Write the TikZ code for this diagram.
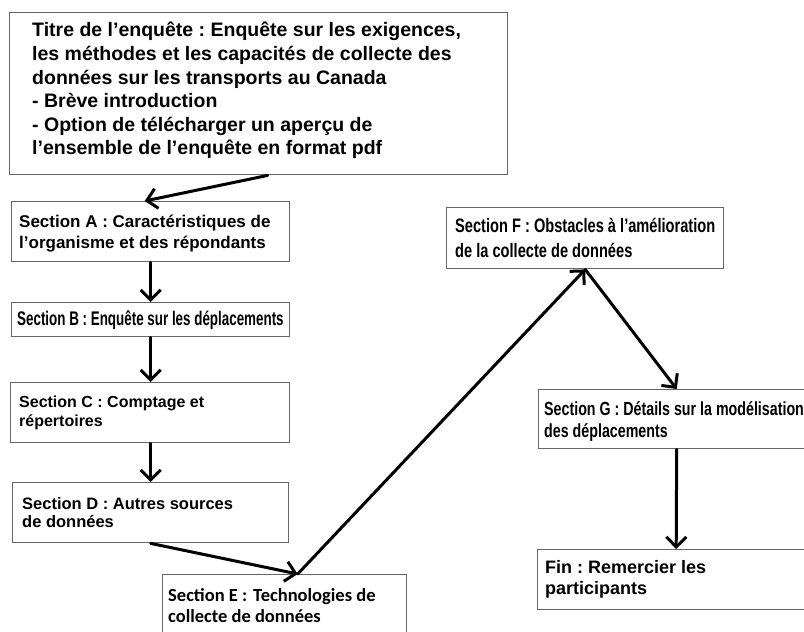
\documentclass[tikz,border=0pt]{standalone}
\usepackage{fontspec}
\setmainfont{Liberation Sans}
\newfontfamily\narrowfont[FakeStretch=0.75]{Liberation Sans}
\newfontfamily\narrowerfont[FakeStretch=0.68]{Liberation Sans}
\newfontfamily\calfont{Carlito}
\usetikzlibrary{arrows.meta}
\begin{document}
\frenchspacing
\begin{tikzpicture}[x=1pt,y=-1pt,
  box/.style={draw=black!60, line width=1.4pt, anchor=north west, inner sep=0pt, fill=white},
  txt/.style={anchor=west, align=left, inner sep=0pt, execute at begin node=\frenchspacing},
  arr/.style={line width=3pt, line cap=round, -{Straight Barb[length=10pt,width=20pt,line width=3pt]}}]
\useasboundingbox (0,0) rectangle (804,632);
\fill[white] (0,0) rectangle (804,632);

% boxes
\node[box, minimum width=498pt, minimum height=162pt] (T) at (9,12) {};
\node[box, minimum width=278pt, minimum height=60pt] (A) at (11,201) {};
\node[box, minimum width=278pt, minimum height=34pt] (B) at (11,302) {};
\node[box, minimum width=279pt, minimum height=60pt] (C) at (10,382) {};
\node[box, minimum width=276pt, minimum height=60pt] (D) at (12,482) {};
\node[box, minimum width=244pt, minimum height=62pt] (E) at (162,574) {};
\node[box, minimum width=277pt, minimum height=61pt] (F) at (446,207) {};
\node[box, minimum width=276pt, minimum height=59pt] (G) at (538,389) {};
\node[box, minimum width=277pt, minimum height=60pt] (Fin) at (537,549) {};

% texts
\node[txt, font=\fontsize{19.5}{23.6}\selectfont\bfseries] (Ttext) at ([xshift=23pt,yshift=3pt]T.west)
  {Titre de l’enquête : Enquête sur les exigences,\\
   les méthodes et les capacités de collecte des\\
   données sur les transports au Canada\\
   - Brève introduction\\
   - Option de télécharger un aperçu de\\
   l’ensemble de l’enquête en format pdf};
\node[txt, font=\fontsize{17}{21}\selectfont\bfseries] (Atext) at ([xshift=8pt,yshift=-2pt]A.west)
  {Section A : Caractéristiques de\\ l’organisme et des répondants};
\node[txt, font=\narrowerfont\fontsize{19.7}{21}\selectfont\bfseries] (Btext) at ([xshift=6pt]B.west)
  {Section B : Enquête sur les déplacements};
\node[txt, font=\fontsize{16}{19}\selectfont\bfseries] (Ctext) at ([xshift=9pt]C.west)
  {Section C : Comptage et\\ répertoires};
\node[txt, font=\fontsize{16.5}{18.5}\selectfont\bfseries] (Dtext) at ([xshift=10pt]D.west)
  {Section D : Autres sources\\ de données};
\node[txt, font=\calfont\fontsize{18.5}{20.5}\selectfont\bfseries] (Etext) at ([xshift=6pt]E.west)
  {Section E :\hspace{0.1em} Technologies de\\ collecte de données};
\node[txt, font=\narrowfont\fontsize{19.5}{25}\selectfont\bfseries] (Ftext) at ([xshift=9pt]F.west)
  {Section F : Obstacles à l’amélioration\\ de la collecte de données};
\node[txt, font=\narrowfont\fontsize{19}{22}\selectfont\bfseries] (Gtext) at ([xshift=6pt,yshift=-2pt]G.west)
  {Section G : Détails sur la modélisation\\ des déplacements};
\node[txt, font=\fontsize{18}{21}\selectfont\bfseries] (Fintext) at ([xshift=8pt]Fin.west)
  {Fin : Remercier les\\ participants};

% connectors
\coordinate (Tout) at ([xshift=9pt]T.south);
\coordinate (Ein) at ([xshift=13pt]E.north);

\draw[arr] (Tout) -- ([xshift=-6pt]A.north);
\draw[arr] (A.south) -- (B.north);
\draw[arr] (B.south) -- (B.south |- C.north);
\draw[arr] (D.north |- C.south) -- (D.north);
\draw[arr] (D.south) -- (Ein);
\draw[arr] (Ein) -- (F.south);
\draw[arr] (F.south) -- (G.north);
\draw[arr] (G.south) -- (Fin.north);
\end{tikzpicture}
\end{document}
